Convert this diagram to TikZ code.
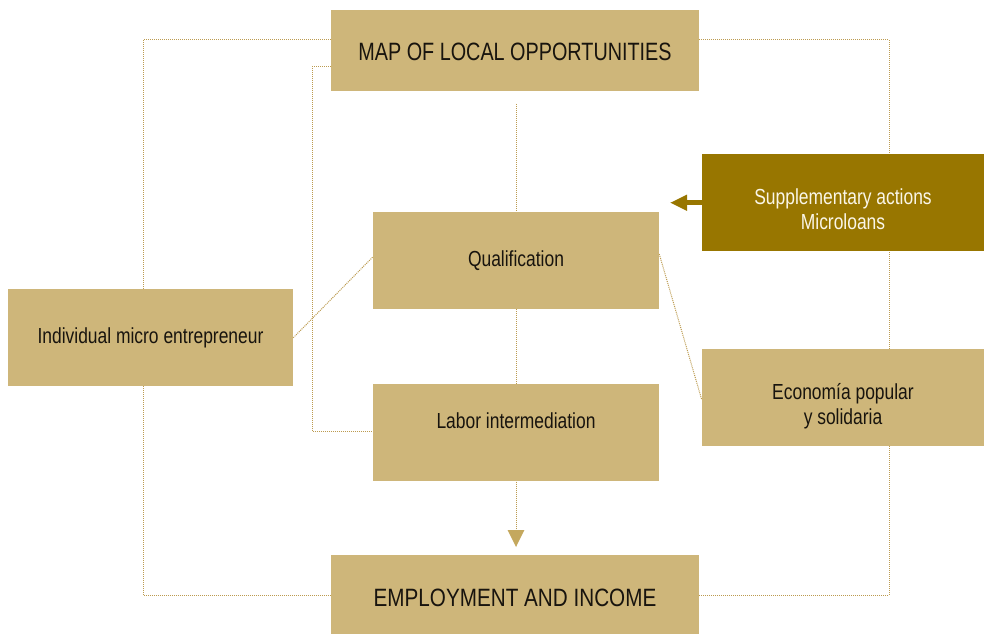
\documentclass[tikz,border=0pt]{standalone}
\usepackage{fontspec}
\setmainfont{Liberation Sans}[FakeStretch=0.8]
\newfontfamily\bigfont{Liberation Sans}[FakeStretch=0.79]
\newfontfamily\bigwidefont{Liberation Sans}[FakeStretch=0.825]
\usetikzlibrary{arrows.meta}
\definecolor{tan}{RGB}{206,182,122}
\definecolor{darkgold}{RGB}{152,118,0}
\definecolor{dotc}{RGB}{188,155,80}
\definecolor{tric}{RGB}{196,168,94}
\definecolor{txt}{RGB}{24,20,14}
\definecolor{lighttxt}{RGB}{250,246,232}
\pgfdeclarelayer{background}
\pgfsetlayers{background,main}
\newcommand\shiftbox[2]{\raisebox{#1}[\height][\depth]{#2}}
\newcommand\twolines[2]{\shiftbox{-6.75pt}{\begin{tabular}{@{}c@{}}#1\\#2\end{tabular}}}
\tikzset{
  box/.style={rectangle, fill=tan, inner sep=0pt, align=center, text=txt,
    font=\fontsize{16.35}{18.75}\selectfont},
  bigbox/.style={box, font=\bigfont\fontsize{18.8}{22}\selectfont},
  bigwidebox/.style={box, font=\bigwidefont\fontsize{18.8}{22}\selectfont},
  darkbox/.style={box, fill=darkgold, text=lighttxt},
  dotline/.style={draw=dotc, line width=0.75pt, dash pattern=on 0.75pt off 0.75pt},
  solidarrow/.style={draw=darkgold, line width=3.4pt,
    -{Triangle[length=12.75pt,width=11.25pt]}},
}
\begin{document}
\begin{tikzpicture}[x=0.75pt,y=-0.75pt]
\useasboundingbox (0,0) rectangle (984,634);
\node[bigbox, minimum width=276pt, minimum height=60.75pt] (map) at (515,50.5) {\shiftbox{-1.2pt}{MAP OF LOCAL OPPORTUNITIES}};
\node[box, minimum width=214.5pt, minimum height=72.75pt] (qual) at (516,260.5) {Qualification};
\node[box, minimum width=214.5pt, minimum height=73pt] (labor) at (516,432.75) {\shiftbox{9pt}{Labor intermediation}};
\node[bigwidebox, minimum width=276pt, minimum height=59.25pt] (emp) at (515,594.5) {\shiftbox{-2.25pt}{EMPLOYMENT AND INCOME}};
\node[box, minimum width=213.75pt, minimum height=73.1pt] (indiv) at (150.5,337.75) {Individual micro entrepreneur};
\node[darkbox, minimum width=211.5pt, minimum height=73.1pt] (supp) at (843,202.75) {\twolines{Supplementary actions}{Microloans}};
\node[box, minimum width=211.5pt, minimum height=73.1pt] (econ) at (843,397.75) {\twolines{Economía popular}{y solidaria}};

\coordinate (lt) at (143,40);
\coordinate (lb) at (143,595.5);
\coordinate (rt) at (889,40);
\coordinate (rb) at (889,595.5);
\coordinate (it) at (312,66.5);
\coordinate (ib) at (312,431);
\coordinate (ctop) at (516,104);
\coordinate (cend) at (516,531);
\coordinate (arrtip) at (516,547);
\coordinate (stip) at (670,202);

\begin{pgfonlayer}{background}
\draw[dotline] (map.west |- lt) -- (lt) -- (lb) -- (emp.west |- lb);
\draw[dotline] (map.east |- rt) -- (rt) -- (rb) -- (emp.east |- rb);
\draw[dotline] (map.west |- it) -- (it) -- (ib) -- (labor.west |- ib);
\draw[dotline] (ctop) -- (qual.north);
\draw[dotline] (qual.south) -- (labor.north);
\draw[dotline] (labor.south) -- (cend);
\draw[dotline] (indiv.east) -- ([yshift=2.6pt]qual.west);
\draw[dotline] ([yshift=4.8pt]qual.east) -- ([yshift=-1.5pt]econ.west);
\end{pgfonlayer}
\fill[tric] ([xshift=-6.3pt,yshift=12.75pt]arrtip) -- ([xshift=6.3pt,yshift=12.75pt]arrtip) -- (arrtip) -- cycle;
\draw[solidarrow] (supp.west) -- (supp.west -| stip);
\end{tikzpicture}
\end{document}
